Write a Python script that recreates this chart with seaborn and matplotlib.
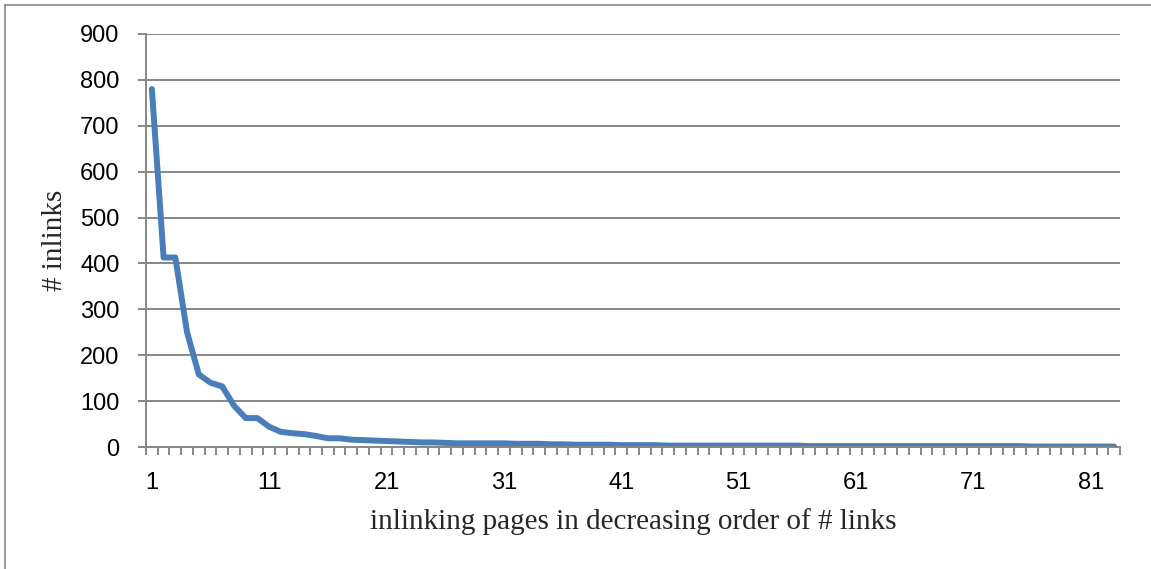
import numpy as np
import pandas as pd
import matplotlib
matplotlib.use("Agg")
import matplotlib.pyplot as plt
from matplotlib.lines import Line2D
from matplotlib.ticker import FixedLocator
import seaborn as sns

# inlinks per page, sorted in decreasing order
inlinks = [780, 413, 413, 250, 158, 140, 132, 90, 63, 63,
           44, 33, 30, 28, 24, 19, 19, 16, 15, 14,
           13, 12, 11, 10, 10, 9, 8, 8, 8, 8,
           8, 7, 7, 7, 6, 6, 5, 5, 5, 5,
           4, 4, 4, 4, 3, 3, 3, 3, 3, 3,
           3, 3, 3, 3, 3, 3, 2, 2, 2, 2,
           2, 2, 2, 2, 2, 2, 2, 2, 2, 2,
           2, 2, 2, 2, 2, 1, 1, 1, 1, 1,
           1, 1, 1]
pages = list(range(1, len(inlinks) + 1))
xtick_labels = [str(p) for p in pages if (p - 1) % 10 == 0]
yticks = [0, 100, 200, 300, 400, 500, 600, 700, 800, 900]

df = pd.DataFrame({'page': pages, 'inlinks': inlinks})

sns.set_style('white')
grey = '#878787'

fig = plt.figure(figsize=(11.51, 5.69), dpi=100)
ax = fig.add_axes([146 / 1151, 1 - 447 / 569, (1120 - 146) / 1151, (447 - 34) / 569])

sns.lineplot(data=df, x='page', y='inlinks', ax=ax, color='#4A7EBB', linewidth=4.3)

ax.set_xlim(0.5, len(pages) + 0.5)
ax.set_ylim(0, 900)
ax.set_yticks(yticks)
ax.yaxis.grid(True, color=grey, linewidth=1.4)
ax.xaxis.grid(False)
ax.set_axisbelow(True)

ax.set_xticks([int(l) for l in xtick_labels])
ax.set_xticklabels(xtick_labels)
ax.xaxis.set_minor_locator(FixedLocator(np.arange(0.5, len(pages) + 1, 1)))
ax.tick_params(axis='x', which='major', bottom=True, length=0, pad=18)
ax.tick_params(axis='x', which='minor', bottom=True, length=6, width=1.4, color=grey, direction='out')
ax.tick_params(axis='y', which='major', left=True, length=6, width=1.4, color=grey, direction='out', pad=13)

for lab in ax.get_xticklabels() + ax.get_yticklabels():
    lab.set_family(['Liberation Sans', 'DejaVu Sans'])
    lab.set_fontsize(17)
    lab.set_color('black')

for side in ['top', 'right']:
    ax.spines[side].set_visible(False)
for side in ['left', 'bottom']:
    ax.spines[side].set_color(grey)
    ax.spines[side].set_linewidth(1.4)

ax.set_xlabel('inlinking pages in decreasing order of # links', family='Liberation Serif', fontsize=21)
ax.set_ylabel('# inlinks', family='Liberation Serif', fontsize=21)
ax.xaxis.set_label_coords(0.5, (447 - 529) / 413)
ax.xaxis.label.set_va('baseline')
ax.yaxis.set_label_coords((55 - 146) / 974, 0.5)
ax.yaxis.label.set_va('center')

# outer frame of the chart (only top and left visible in the crop)
fig.add_artist(Line2D([5 / 1151, 1], [1 - 5 / 569, 1 - 5 / 569], color=grey, linewidth=1.2, transform=fig.transFigure))
fig.add_artist(Line2D([5 / 1151, 5 / 1151], [0, 1 - 5 / 569], color=grey, linewidth=1.2, transform=fig.transFigure))

fig.savefig('out.png', dpi=100)
